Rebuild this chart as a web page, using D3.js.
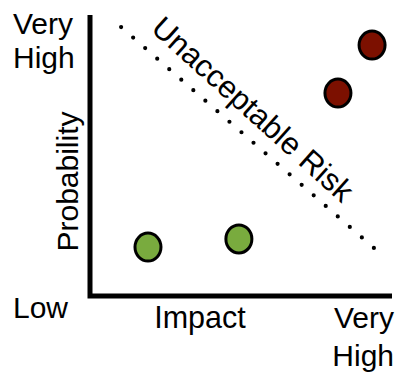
<!DOCTYPE html>
<html><head><meta charset="utf-8">
<script src="https://cdn.jsdelivr.net/npm/d3@7"></script>
<style>
html,body{margin:0;padding:0;background:#fff;}
text{font-family:"Liberation Sans",Arial,Helvetica,sans-serif;fill:#000;}
</style>
</head><body>
<script>
// Data (axes on 0-10 scale)
const riskNames = ["Low A", "Low B", "High A", "High B"];
const impactValues = [1.92, 4.93, 8.21, 9.34];
const probabilityValues = [1.74, 2.03, 7.22, 8.93];
const riskLevels = ["acceptable", "acceptable", "unacceptable", "unacceptable"];
const thresholdImpact = [1.03, 9.40];
const thresholdProbability = [9.57, 1.71];
const yTickLabels = ["Low", "Very High"];
const xTickLabels = ["Impact", "Very High"];
const yAxisTitle = "Probability";
const thresholdLabel = "Unacceptable Risk";

const W = 405, H = 382;
const x0 = 90, x1 = 392, y0 = 296, y1 = 15;
const x = d3.scaleLinear().domain([0, 10]).range([x0, x1]);
const y = d3.scaleLinear().domain([0, 10]).range([y0, y1]);
const color = d3.scaleOrdinal().domain(["acceptable", "unacceptable"]).range(["#79ab3e", "#7c1000"]);

const svg = d3.select("body").append("svg").attr("width", W).attr("height", H);

// axes lines
svg.append("path")
  .attr("d", `M${x(0)},${y(10)}V${y(0)}H${x(10)}`)
  .attr("fill", "none").attr("stroke", "#000").attr("stroke-width", 5)
  .attr("stroke-linejoin", "miter");

// threshold dotted line
const p1 = [x(thresholdImpact[0]), y(thresholdProbability[0])];
const p2 = [x(thresholdImpact[1]), y(thresholdProbability[1])];
const len = Math.hypot(p2[0] - p1[0], p2[1] - p1[1]);
svg.append("path")
  .attr("d", d3.line()(thresholdImpact.map((v, i) => [x(v), y(thresholdProbability[i])])))
  .attr("fill", "none").attr("stroke", "#000").attr("stroke-width", 4.2)
  .attr("stroke-linecap", "round")
  .attr("stroke-dasharray", `0,${len / 21}`);

// threshold label
const ang = Math.atan2(p2[1] - p1[1], p2[0] - p1[0]) + 0.015;
const mid = [(p1[0] + p2[0]) / 2, (p1[1] + p2[1]) / 2];
const off = 14, along = -15;
const lx = mid[0] + Math.sin(ang) * off + Math.cos(ang) * along;
const ly = mid[1] - Math.cos(ang) * off + Math.sin(ang) * along;
svg.append("text")
  .attr("transform", `translate(${lx},${ly}) rotate(${ang * 180 / Math.PI})`)
  .attr("text-anchor", "middle").attr("font-size", 31)
  .text(thresholdLabel);

// points
svg.selectAll("ellipse.pt").data(impactValues).join("ellipse")
  .attr("class", "pt")
  .attr("cx", d => x(d))
  .attr("cy", (d, i) => y(probabilityValues[i]))
  .attr("rx", 13).attr("ry", 14)
  .attr("fill", (d, i) => color(riskLevels[i]))
  .attr("stroke", "#000").attr("stroke-width", 3);

// y tick labels
svg.append("text").attr("x", 13).attr("y", 318).attr("font-size", 30).text(yTickLabels[0]);
const yt = svg.append("text").attr("x", 13).attr("y", 34).attr("font-size", 30);
yt.append("tspan").attr("x", 13).text(yTickLabels[1].split(" ")[0]);
yt.append("tspan").attr("x", 13).attr("dy", 34).text(yTickLabels[1].split(" ")[1]);

// y title
svg.append("text")
  .attr("transform", `translate(78,${(y0 + y1) / 2 + 26}) rotate(-90)`)
  .attr("text-anchor", "middle").attr("font-size", 30)
  .text(yAxisTitle);

// x labels
svg.append("text").attr("x", 200).attr("y", 328).attr("text-anchor", "middle")
  .attr("font-size", 30.5).text(xTickLabels[0]);
const xt = svg.append("text").attr("x", 394).attr("y", 328).attr("text-anchor", "end").attr("font-size", 30);
xt.append("tspan").attr("x", 394).text(xTickLabels[1].split(" ")[0]);
xt.append("tspan").attr("x", 394).attr("dy", 38).text(xTickLabels[1].split(" ")[1]);
</script>
</body></html>
